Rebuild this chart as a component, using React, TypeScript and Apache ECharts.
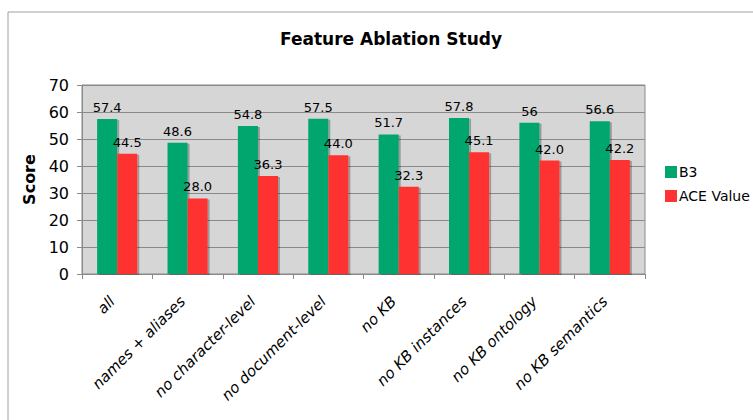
import React, { useEffect, useRef } from "react";
import * as echarts from "echarts";

const categories = [
  "all",
  "names + aliases",
  "no character-level",
  "no document-level",
  "no KB",
  "no KB instances",
  "no KB ontology",
  "no KB semantics",
];
const b3Values = [57.4, 48.6, 54.8, 57.5, 51.7, 57.8, 56, 56.6];
const aceValues = [44.5, 28.0, 36.3, 44.0, 32.3, 45.1, 42.0, 42.2];
const yTicks = [0, 10, 20, 30, 40, 50, 60, 70];

const FONT = "'DejaVu Sans', Verdana, sans-serif";
const GREEN = "#00a66e";
const RED = "#ff3333";

export default function App() {
  const ref = useRef<HTMLDivElement>(null);
  useEffect(() => {
    if (!ref.current) return;
    const chart = echarts.init(ref.current, undefined, { renderer: "svg" });
    const barShadow = {
      shadowColor: "rgba(0,0,0,0.28)",
      shadowOffsetX: 2,
      shadowOffsetY: 1,
      shadowBlur: 1,
    };
    chart.setOption({
      animation: false,
      backgroundColor: "#ffffff",
      title: {
        text: "Feature Ablation Study",
        left: 386,
        top: 25,
        textAlign: "center",
        textStyle: { fontFamily: FONT, fontSize: 17, fontWeight: "bold", color: "#000" },
      },
      graphic: [
        {
          type: "rect",
          shape: { x: 8, y: 12, width: 900, height: 600 },
          style: { fill: "none", stroke: "#a0a0a0", lineWidth: 1 },
          silent: true,
        },
      ],
      legend: {
        orient: "vertical",
        left: 660,
        top: 160,
        itemWidth: 12,
        itemHeight: 12,
        itemGap: 10,
        icon: "rect",
        textStyle: { fontFamily: FONT, fontSize: 14, color: "#000", padding: [0, 0, 0, -3] },
        data: ["B3", "ACE Value"],
      },
      grid: {
        left: 82,
        right: 108,
        top: 85,
        bottom: 146,
        show: true,
        backgroundColor: "#d6d6d6",
        borderColor: "#8a8a8a",
        borderWidth: 1,
      },
      xAxis: {
        type: "category",
        data: categories,
        axisLine: { show: true, lineStyle: { color: "#8a8a8a", width: 1 } },
        axisTick: { show: true, length: 5, lineStyle: { color: "#8a8a8a" } },
        axisLabel: {
          rotate: 45,
          interval: 0,
          margin: 20,
          fontFamily: FONT,
          fontSize: 15,
          fontStyle: "italic",
          color: "#000",
          padding: [0, 7, 14, 0],
        },
      },
      yAxis: {
        type: "value",
        min: yTicks[0],
        max: yTicks[yTicks.length - 1],
        interval: 10,
        name: "Score",
        nameLocation: "middle",
        nameGap: 41,
        nameTextStyle: { fontFamily: FONT, fontSize: 16, fontWeight: "bold", color: "#000" },
        axisLine: { show: true, lineStyle: { color: "#8a8a8a", width: 1 } },
        axisTick: { show: true, length: 5, lineStyle: { color: "#8a8a8a" } },
        axisLabel: { fontFamily: FONT, fontSize: 16, color: "#000", margin: 13 },
        splitLine: { show: true, lineStyle: { color: "#8a8a8a", width: 1 } },
      },
      series: [
        {
          name: "B3",
          type: "bar",
          data: b3Values,
          barGap: "0%",
          barCategoryGap: "43%",
          itemStyle: { color: GREEN, ...barShadow },
          label: {
            show: true,
            position: "top",
            fontFamily: FONT,
            fontSize: 13,
            color: "#000",
            formatter: (p: any) => String(p.value),
          },
        },
        {
          name: "ACE Value",
          type: "bar",
          data: aceValues,
          barGap: "0%",
          barCategoryGap: "43%",
          itemStyle: { color: RED, ...barShadow },
          label: {
            show: true,
            position: "top",
            fontFamily: FONT,
            fontSize: 13,
            color: "#000",
            formatter: (p: any) => Number(p.value).toFixed(1),
          },
        },
      ],
    });
    return () => chart.dispose();
  }, []);
  return (
    <div
      ref={ref}
      style={{ position: "fixed", left: 0, top: 0, width: 753, height: 420 }}
    />
  );
}
